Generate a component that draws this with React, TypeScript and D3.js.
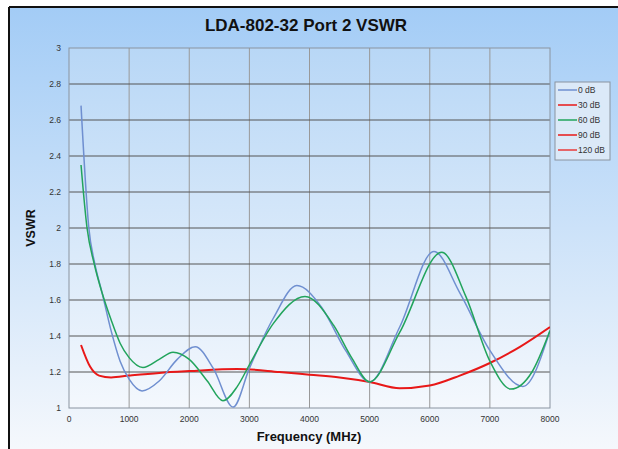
import * as d3 from 'd3'

const W = 618
const H = 449
const M = { left: 69, right: 550, top: 48, bottom: 408 }

const xTicks = [0, 1000, 2000, 3000, 4000, 5000, 6000, 7000, 8000]
const yTicks = [1, 1.2, 1.4, 1.6, 1.8, 2, 2.2, 2.4, 2.6, 2.8, 3]

const freq0 = [200, 330, 430, 550, 700, 850, 1000, 1215, 1500, 1800, 2100, 2400, 2730, 3000, 3400, 3790, 4200, 4600, 5000, 5500, 6070, 6500, 7000, 7550, 8000]
const vswr0 = [2.68, 2.0, 1.8, 1.64, 1.43, 1.26, 1.16, 1.095, 1.15, 1.27, 1.34, 1.22, 1.005, 1.22, 1.5, 1.68, 1.56, 1.32, 1.145, 1.45, 1.87, 1.64, 1.32, 1.12, 1.43]

const freq60 = [200, 300, 420, 550, 700, 850, 1000, 1230, 1500, 1730, 2000, 2300, 2560, 2800, 3000, 3400, 3925, 4400, 4700, 5000, 5500, 6200, 6600, 7000, 7350, 7700, 8000]
const vswr60 = [2.35, 2.0, 1.8, 1.64, 1.49, 1.36, 1.28, 1.225, 1.27, 1.31, 1.27, 1.15, 1.04, 1.12, 1.24, 1.47, 1.62, 1.46, 1.28, 1.145, 1.42, 1.865, 1.62, 1.26, 1.105, 1.2, 1.43]

const freqRed = [200, 350, 500, 700, 1000, 1500, 2000, 2800, 3500, 4000, 4500, 5000, 5500, 6000, 6500, 7000, 7500, 8000]
const vswrRed = [1.35, 1.23, 1.18, 1.17, 1.18, 1.195, 1.205, 1.217, 1.2, 1.185, 1.17, 1.145, 1.11, 1.125, 1.18, 1.25, 1.34, 1.45]

const legendLabels = ['0 dB', '30 dB', '60 dB', '90 dB', '120 dB']
const legendColors = ['#6f8fd0', '#e81818', '#22a45c', '#e81818', '#ea3a3a']

const x = d3.scaleLinear().domain([0, 8000]).range([M.left, M.right])
const y = d3.scaleLinear().domain([1, 3]).range([M.bottom, M.top])

const line = d3
  .line<[number, number]>()
  .x((d) => x(d[0]))
  .y((d) => y(d[1]))
  .curve(d3.curveMonotoneX)

const zip = (a: number[], b: number[]) => a.map((v, i) => [v, b[i]] as [number, number])

const font = '"Liberation Sans", Arial, sans-serif'

export default function App() {
  return (
    <svg
      width={W}
      height={H}
      style={{ position: 'absolute', left: 0, top: 0 }}
      fontFamily={font}
    >
      <defs>
        <linearGradient id="bg" x1="0" y1="0" x2="0" y2="1">
          <stop offset="0" stopColor="#a3ccf6" />
          <stop offset="1" stopColor="#f5f8fc" />
        </linearGradient>
        <linearGradient id="plotbg" x1="0" y1="0" x2="0" y2="1">
          <stop offset="0" stopColor="#b8d7f6" />
          <stop offset="1" stopColor="#f4f8fd" />
        </linearGradient>
        <clipPath id="clip">
          <rect x={M.left} y={M.top} width={M.right - M.left} height={M.bottom - M.top} />
        </clipPath>
      </defs>
      <rect x={0} y={0} width={W} height={H} fill="#ffffff" />
      <rect x={10} y={8} width={W - 10} height={H - 8} fill="url(#bg)" />
      <line x1={9} y1={7} x2={W} y2={7} stroke="#111" strokeWidth={2} />
      <line x1={9} y1={7} x2={9} y2={H} stroke="#111" strokeWidth={2} />

      <text x={306} y={31} textAnchor="middle" fontSize={17} fontWeight="bold" fill="#111">
        LDA-802-32 Port 2 VSWR
      </text>

      <rect
        x={M.left}
        y={M.top}
        width={M.right - M.left}
        height={M.bottom - M.top}
        fill="url(#plotbg)"
      />
      {xTicks.slice(1, -1).map((t) => (
        <line key={t} x1={x(t)} x2={x(t)} y1={M.top} y2={M.bottom} stroke="#999" strokeWidth={1} />
      ))}
      {yTicks.slice(1, -1).map((t) => (
        <line key={t} x1={M.left} x2={M.right} y1={y(t)} y2={y(t)} stroke="#555" strokeWidth={1} />
      ))}
      <rect
        x={M.left}
        y={M.top}
        width={M.right - M.left}
        height={M.bottom - M.top}
        fill="none"
        stroke="#8a94a0"
        strokeWidth={1}
      />

      {yTicks.map((t) => (
        <text key={t} x={61} y={y(t) + 3} textAnchor="end" fontSize={8.5} fill="#333">
          {d3.format('~g')(t)}
        </text>
      ))}
      {xTicks.map((t) => (
        <text key={t} x={x(t)} y={422} textAnchor="middle" fontSize={8.5} fill="#333">
          {t}
        </text>
      ))}

      <text
        transform={`translate(35,${(M.top + M.bottom) / 2}) rotate(-90)`}
        textAnchor="middle"
        fontSize={12.5}
        fontWeight="bold"
        fill="#111"
      >
        VSWR
      </text>
      <text x={309} y={441} textAnchor="middle" fontSize={13} fontWeight="bold" fill="#111">
        Frequency (MHz)
      </text>

      <g clipPath="url(#clip)" fill="none">
        <path d={line(zip(freqRed, vswrRed)) ?? ''} stroke="#e81818" strokeWidth={2} />
        <path d={line(zip(freq0, vswr0)) ?? ''} stroke="#6f8fd0" strokeWidth={1.5} />
        <path d={line(zip(freq60, vswr60)) ?? ''} stroke="#22a45c" strokeWidth={1.5} />
      </g>

      <rect x={555} y={82} width={55} height={78} fill="#dbe9f8" stroke="#8a94a0" strokeWidth={1} />
      {legendLabels.map((label, i) => (
        <g key={label} transform={`translate(0,${90 + i * 15})`}>
          <line x1={558} x2={577} y1={0} y2={0} stroke={legendColors[i]} strokeWidth={1.5} />
          <text x={578} y={3} fontSize={8.5} fill="#333">
            {label}
          </text>
        </g>
      ))}
    </svg>
  )
}
